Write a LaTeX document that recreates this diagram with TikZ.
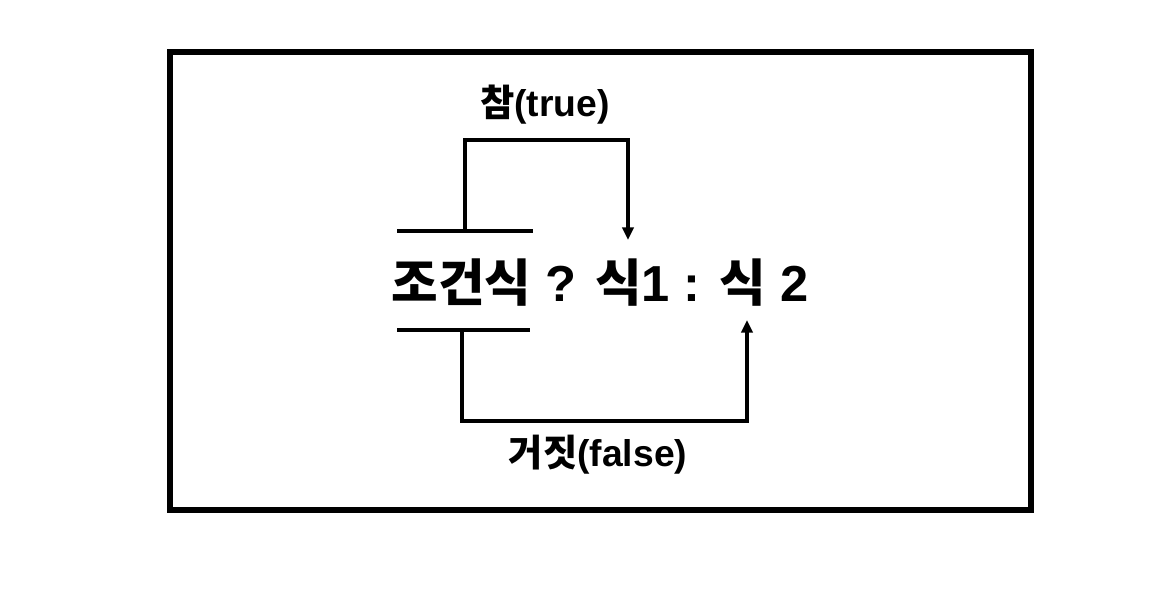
\documentclass[tikz,border=0pt]{standalone}
\usepackage{fontspec}
\setmainfont{Liberation Sans}
\newfontfamily\kor{Noto Sans CJK KR Bold}
\usepackage{tikz}
\usetikzlibrary{positioning}
\usetikzlibrary{calc}
\usetikzlibrary{arrows.meta}

\begin{document}
\begin{tikzpicture}[x=0.025cm, y=-0.025cm,
    line/.style={line width=2.2pt},
    flow/.style={line width=2.2pt, -{Triangle[length=9pt, width=8pt]}},
    label/.style={font=\bfseries\fontsize{26.5}{30}\selectfont, inner sep=0pt}]
    \useasboundingbox (0,0) rectangle (1152,604);
    \draw [line width=4.5pt] (170,52) rectangle (1031,510);
    % Espressione principale
    \node [font=\bfseries\fontsize{36}{42}\selectfont, inner sep=0pt] (expr) at (600,283) {{\kor 조건식} ? {\kor 식}1 : {\kor 식} 2};
    \coordinate (tl) at (397,231);
    \coordinate [right=136 of tl] (tr);
    \coordinate (bl) at (397,330);
    \coordinate [right=133 of bl] (br);
    \coordinate (ts) at (465,231);
    \coordinate (te) at (628,240);
    \coordinate (bs) at (462,330);
    \coordinate (be) at (747,320);
    \node [label] (true) at (545,105) {{\kor 참}(true)};
    \node [label] (false) at (598,455) {{\kor 거짓}(false)};

    \draw [line] (tl) -- (tr);
    \draw [line] (bl) -- (br);
    \draw [flow] (ts) -- ++(0,-91) -| (te);
    \draw [flow] (bs) -- ++(0,91) -| (be);
\end{tikzpicture}
\end{document}
